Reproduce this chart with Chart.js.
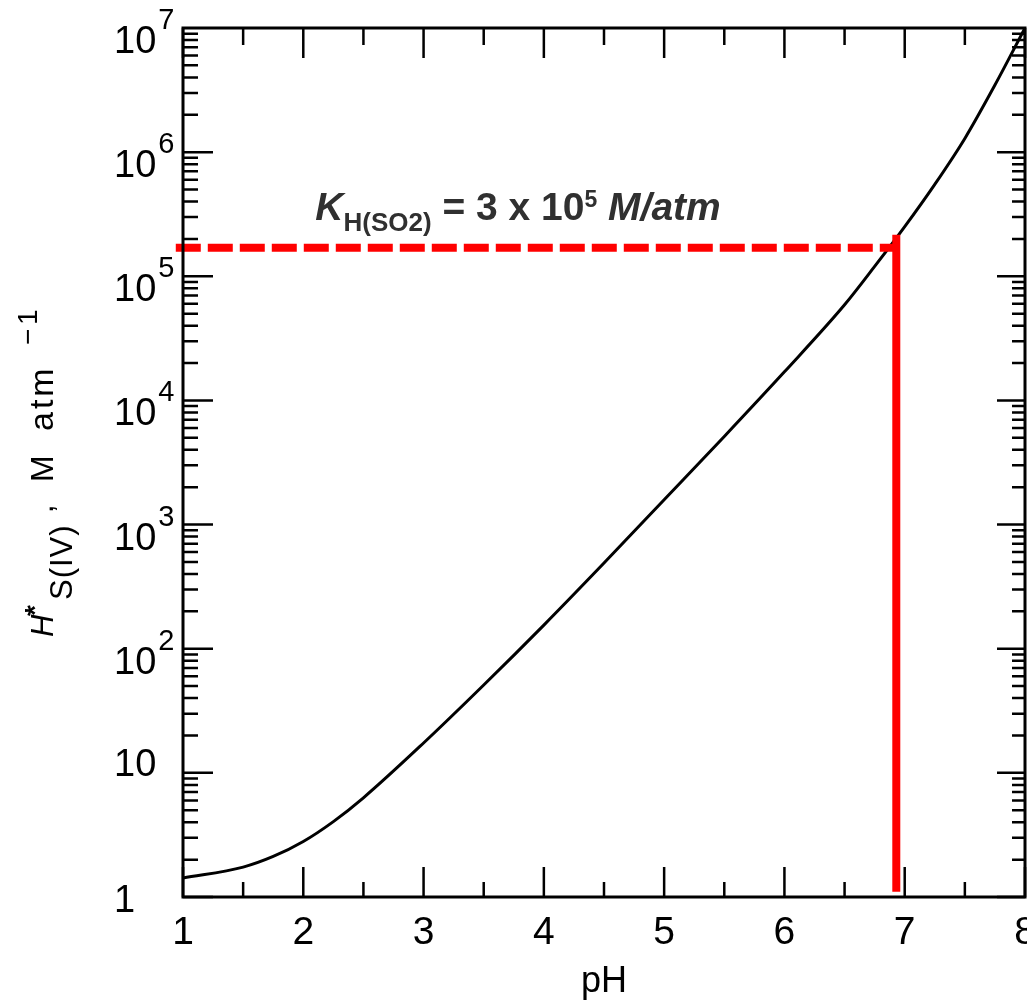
<!DOCTYPE html>
<html><head><meta charset="utf-8">
<script src="https://cdn.jsdelivr.net/npm/chart.js@4/dist/chart.umd.min.js"></script>
<style>html,body{margin:0;padding:0;background:#fff;}</style>
</head><body>
<canvas id="c" width="1027" height="1004"></canvas>
<script>
// ---- data ----
const pHValues    = [1, 1.5, 1.75, 2, 2.25, 2.5, 3, 3.5, 4, 4.5, 5, 5.5, 6, 6.5, 6.75, 7, 7.25, 7.5, 7.75, 8];
const hStarValues = [1.42, 1.74, 2.12, 2.8, 4.05, 6.3, 17.4, 51, 155, 490, 1585, 5130, 17000, 58900, 120000, 251000, 550000, 1290000, 3470000, 10000000];
const xTickValues = [1, 2, 3, 4, 5, 6, 7, 8];
const yTickValues = [1, 10, 100, 1e3, 1e4, 1e5, 1e6, 1e7];
const yTickLabels = ['1', '10', '10^2', '10^3', '10^4', '10^5', '10^6', '10^7'];
const markerVertPH = [6.93, 6.93];
const markerVertH  = [1.1, 216000];
const markerHorzPH = [0.94, 6.93];
const markerHorzH  = [170000, 170000];
const annotationAnchorPH = 2.1;
const annotationAnchorH  = 285000;

const toPts = (xs, ys) => xs.map((x, i) => ({x: x, y: ys[i]}));

const FONT = '"Liberation Sans", Arial, Helvetica, sans-serif';

const decorPlugin = {
  id: 'decor',
  afterDraw(chart) {
    const ctx = chart.ctx;
    const xs = chart.scales.x, ys = chart.scales.y;
    const a = chart.chartArea;
    ctx.save();
    ctx.strokeStyle = '#000';
    ctx.lineCap = 'butt';
    // frame
    ctx.lineWidth = 3;
    ctx.strokeRect(a.left, a.top, a.right - a.left, a.bottom - a.top);
    // y ticks (log, inward)
    ctx.lineWidth = 2.5;
    ctx.beginPath();
    for (let d = 0; d <= 6; d++) {
      for (let m = 1; m <= 9; m++) {
        const v = m * Math.pow(10, d);
        const p = ys.getPixelForValue(v);
        const major = m === 1;
        ctx.moveTo(a.left, p); ctx.lineTo(a.left + (major ? 30 : 15), p);
        ctx.moveTo(a.right, p); ctx.lineTo(a.right - (major ? 28 : 13), p);
      }
    }
    // x ticks (inward)
    for (let t = xs.min; t <= xs.max + 1e-9; t += 0.5) {
      const p = xs.getPixelForValue(t);
      const major = Math.abs(t - Math.round(t)) < 1e-9;
      ctx.moveTo(p, a.bottom); ctx.lineTo(p, a.bottom - (major ? 30 : 15));
      ctx.moveTo(p, a.top); ctx.lineTo(p, a.top + (major ? 30 : 17));
    }
    ctx.stroke();

    // y tick labels
    ctx.fillStyle = '#000';
    ctx.textAlign = 'left';
    ctx.textBaseline = 'alphabetic';
    yTickValues.forEach((v, i) => {
      const p = ys.getPixelForValue(v);
      const lab = yTickLabels[i];
      const lx = 114;
      if (lab.indexOf('^') >= 0) {
        const [base, exp] = lab.split('^');
        ctx.font = '38px ' + FONT;
        ctx.fillText(base, lx, p + 25);
        const w = ctx.measureText(base).width;
        ctx.font = '29px ' + FONT;
        ctx.fillText(exp, lx + w + 2, p + 1);
      } else {
        ctx.font = '38px ' + FONT;
        ctx.fillText(lab, lx, v === ys.min ? p + 15 : p + 3);
      }
    });

    // y axis title (rotated)
    ctx.save();
    ctx.translate(53, 637);
    ctx.rotate(-Math.PI / 2);
    ctx.fillStyle = '#000';
    const put = (t, u, v, f, ls) => { ctx.font = f; ctx.letterSpacing = ls || '0px'; ctx.fillText(t, u, v); };
    put('H', 0, 0, 'italic 31px ' + FONT);
    put('*', 21, -9, 'bold 28px ' + FONT);
    put('S(IV)', 37, 19, '31px ' + FONT, '1px');
    put(',', 124, 0, '31px ' + FONT);
    put('M', 155, 0, '32px ' + FONT);
    put('atm', 206, 0, '34px ' + FONT, '3px');
    put('\u2212', 292, -16, '28px ' + FONT);
    put('1', 312, -16, '28px ' + FONT);
    ctx.letterSpacing = '0px';
    ctx.restore();

    // annotation
    let ax = xs.getPixelForValue(annotationAnchorPH);
    const ay = ys.getPixelForValue(annotationAnchorH);
    ctx.fillStyle = '#303030';
    const parts = [
      ['K', 'italic bold 39px ', 0],
      ['H(SO2)', 'bold 26px ', 11],
      [' = 3 x 10', 'bold 39px ', 0],
      ['5', 'bold 23px ', -13],
      [' M/atm', 'italic bold 39px ', 0]
    ];
    parts.forEach(([t, f, dy]) => {
      ctx.font = f + FONT;
      ctx.fillText(t, ax, ay + dy);
      ax += ctx.measureText(t).width;
    });
    ctx.restore();
  }
};

new Chart(document.getElementById('c'), {
  type: 'scatter',
  data: {
    datasets: [
      {
        label: 'K line',
        data: toPts(markerHorzPH, markerHorzH),
        showLine: true, borderColor: '#ff0000', borderWidth: 8, borderDash: [25, 7],
        pointRadius: 0, clip: false, order: 0
      },
      {
        label: 'pH marker',
        data: toPts(markerVertPH, markerVertH),
        showLine: true, borderColor: '#ff0000', borderWidth: 8,
        pointRadius: 0, clip: false, order: 0
      },
      {
        label: 'H*',
        data: toPts(pHValues, hStarValues),
        showLine: true, borderColor: '#000', borderWidth: 3,
        cubicInterpolationMode: 'monotone',
        pointRadius: 0, clip: false, order: 1
      }
    ]
  },
  options: {
    responsive: false,
    devicePixelRatio: 1,
    animation: false,
    events: [],
    layout: { padding: { left: 0, right: 2, top: 28, bottom: 0 } },
    plugins: { legend: { display: false }, tooltip: { enabled: false } },
    scales: {
      x: {
        type: 'linear', min: 1, max: 8,
        afterBuildTicks(s) { s.ticks = xTickValues.map(v => ({ value: v })); },
        ticks: { font: { size: 39, family: FONT }, color: '#000', padding: 13, maxRotation: 0, autoSkip: false },
        grid: { display: false, drawTicks: false },
        border: { display: false },
        title: { display: true, text: 'pH', font: { size: 36, family: FONT }, color: '#000', padding: { top: 0, bottom: 0 } },
        afterFit(s) { s.height = 107; s.paddingLeft = 0; s.paddingRight = 0; }
      },
      y: {
        type: 'logarithmic', min: 1, max: 1e7,
        ticks: { display: false },
        grid: { display: false, drawTicks: false },
        border: { display: false },
        afterFit(s) { s.width = 183; s.paddingTop = 0; s.paddingBottom = 0; }
      }
    }
  },
  plugins: [decorPlugin]
});
</script>
</body></html>
